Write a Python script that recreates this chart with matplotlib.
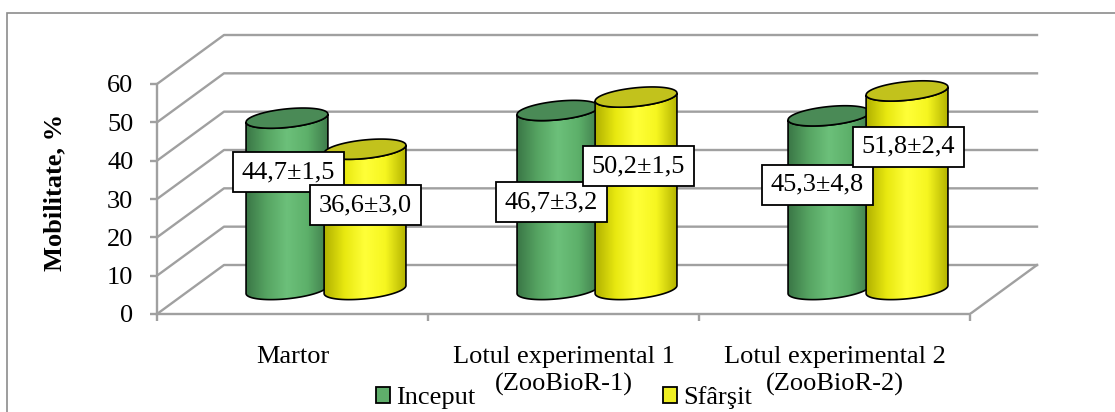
import numpy as np
import matplotlib
matplotlib.use("Agg")
import matplotlib.pyplot as plt
from matplotlib.patches import Polygon, Patch, Rectangle
from matplotlib.colors import LinearSegmentedColormap

plt.rcParams['font.family'] = ['Liberation Serif', 'DejaVu Serif']

# ---- data ----
categories = ["Martor", "Lotul experimental 1", "Lotul experimental 2"]
category_notes = ["", "(ZooBioR-1)", "(ZooBioR-2)"]
series_names = ["Inceput", "Sfârşit"]
inceput = [44.7, 46.7, 45.3]
inceput_err = [1.5, 3.2, 4.8]
sfarsit = [36.6, 50.2, 51.8]
sfarsit_err = [3.0, 1.5, 2.4]
yticks = [0, 10, 20, 30, 40, 50, 60]

# label placement (value units / category units)
label_y = [[37.0, 29.2, 33.7], [28.4, 38.6, 43.6]]
label_dx = [[0.005, -0.024, -0.043], [0.002, 0.009, 0.005]]

# ---- layout (pixels of a 1115x412 picture) ----
W, H = 1115, 412
PX_CAT = 271.0
PX_VAL = 230.0 / 60
DX = 67 / PX_CAT          # depth offset, category units
DY = 49 / PX_VAL          # depth offset, value units
GRID = '#a0a0a0'
FS = 19

fig = plt.figure(figsize=(W / 100, H / 100), dpi=100)
ax = fig.add_axes([157 / W, 98 / H, 888 / W, 294 / H])
ax.set_facecolor('none')

# outer frame (chart area border)
fig.patches.append(Rectangle((7 / W, -0.1), 1.2, (H - 13) / H + 0.1,
                             transform=fig.transFigure, fill=False,
                             edgecolor='#8c8c8c', lw=1.2))

# walls and floor
for v in yticks:
    ax.plot([0, DX, 3 + DX], [v, v + DY, v + DY], color=GRID, lw=1.7, zorder=1)
ax.plot([3, 3 + DX], [0, DY], color=GRID, lw=1.7, zorder=1)

green_cmap = LinearSegmentedColormap.from_list(
    'g', ['#3a7646', '#56a462', '#6cc07a', '#5db06a', '#3f7c4b'])
yellow_cmap = LinearSegmentedColormap.from_list(
    'y', ['#b0b000', '#e8e810', '#ffff38', '#f6f620', '#b4b400'])
styles = [(green_cmap, '#4a8a56'), (yellow_cmap, '#c2c21c')]

A = 0.151                   # half width of a cylinder (category units)
B = 9.3 / PX_VAL            # half height of ellipse (value units)
K = (8 / PX_VAL) / (2 * A)  # perspective tilt of the caps
BASE = DY / 2
grad = np.linspace(0, 1, 256)[np.newaxis, :]


def cylinder(cx, h, cmap, top_color, z):
    t1 = np.linspace(np.pi, 2 * np.pi, 80)
    t2 = t1[::-1]
    xb = cx + A * np.cos(t1)
    yb = BASE + B * np.sin(t1) + K * A * np.cos(t1)
    xt = cx + A * np.cos(t2)
    yt = BASE + h + B * np.sin(t2) + K * A * np.cos(t2)
    body = Polygon(np.column_stack([np.r_[xb, xt], np.r_[yb, yt]]), closed=True,
                   facecolor='none', edgecolor='black', lw=1.2, zorder=z + 0.2)
    ax.add_patch(body)
    im = ax.imshow(grad, extent=(cx - A, cx + A, BASE - B - K * A, BASE + h + B + K * A),
                   aspect='auto', cmap=cmap, zorder=z, interpolation='bilinear')
    im.set_clip_path(body)
    t = np.linspace(0, 2 * np.pi, 160)
    cap = Polygon(np.column_stack([cx + A * np.cos(t),
                                   BASE + h + B * np.sin(t) + K * A * np.cos(t)]),
                  closed=True, facecolor=top_color, edgecolor='black', lw=1.2, zorder=z + 0.3)
    ax.add_patch(cap)


for j, (vals, errs) in enumerate([(inceput, inceput_err), (sfarsit, sfarsit_err)]):
    cmap, top = styles[j]
    for i, (v, e) in enumerate(zip(vals, errs)):
        cx = i + 0.5 + DX / 2 + (j - 0.5) * 0.288
        cylinder(cx, v, cmap, top, 3 + j)
        txt = f"{v:.1f}±{e:.1f}".replace('.', ',')
        ax.text(cx + label_dx[j][i], label_y[j][i], txt, ha='center', va='center',
                fontsize=FS, zorder=10,
                bbox=dict(boxstyle='square,pad=0.33', fc='white', ec='black', lw=1.3))

ax.set_xlim(0, 888 / PX_CAT)
ax.set_ylim(0, 294 / PX_VAL)

# axes
for s in ['top', 'right']:
    ax.spines[s].set_visible(False)
ax.spines['left'].set_bounds(0, 60)
ax.spines['bottom'].set_bounds(0, 3)
for s in ['left', 'bottom']:
    ax.spines[s].set_color(GRID)
    ax.spines[s].set_linewidth(1.7)
    ax.spines[s].set_zorder(2)

ax.set_yticks(yticks)
ax.tick_params(axis='y', length=5, width=1.7, color=GRID, pad=12, labelsize=FS)
ax.set_xticks([0, 1, 2, 3])
ax.set_xticklabels([])
ax.tick_params(axis='x', which='major', length=5, width=1.7, color=GRID)
ax.set_xticks([0.5, 1.5, 2.5], minor=True)
ax.set_xticklabels(categories, minor=True, fontsize=FS)
ax.tick_params(axis='x', which='minor', length=0, pad=23)
# second line of the category labels
for i, note in enumerate(category_notes):
    if note:
        ax.text(i + 0.5, (H - 384 - 98) / 294, note, transform=ax.get_xaxis_transform(),
                ha='center', va='center', fontsize=FS)

ax.set_ylabel('Mobilitate, %', fontsize=FS, fontweight='bold')
ax.yaxis.set_label_coords((66 - 157) / 888, (220 - 98) / 294)

handles = [Patch(facecolor='#5fae6b', edgecolor='black', lw=1.3),
           Patch(facecolor='#eeee22', edgecolor='black', lw=1.3)]
fig.legend(handles, series_names, loc='center', bbox_to_anchor=(564 / W, 1 - 398 / H),
           ncol=2, frameon=False, fontsize=FS, handlelength=0.52, handleheight=0.52,
           handletextpad=0.25, columnspacing=7.1, borderpad=0, borderaxespad=0)

fig.savefig('out.png', dpi=100)
